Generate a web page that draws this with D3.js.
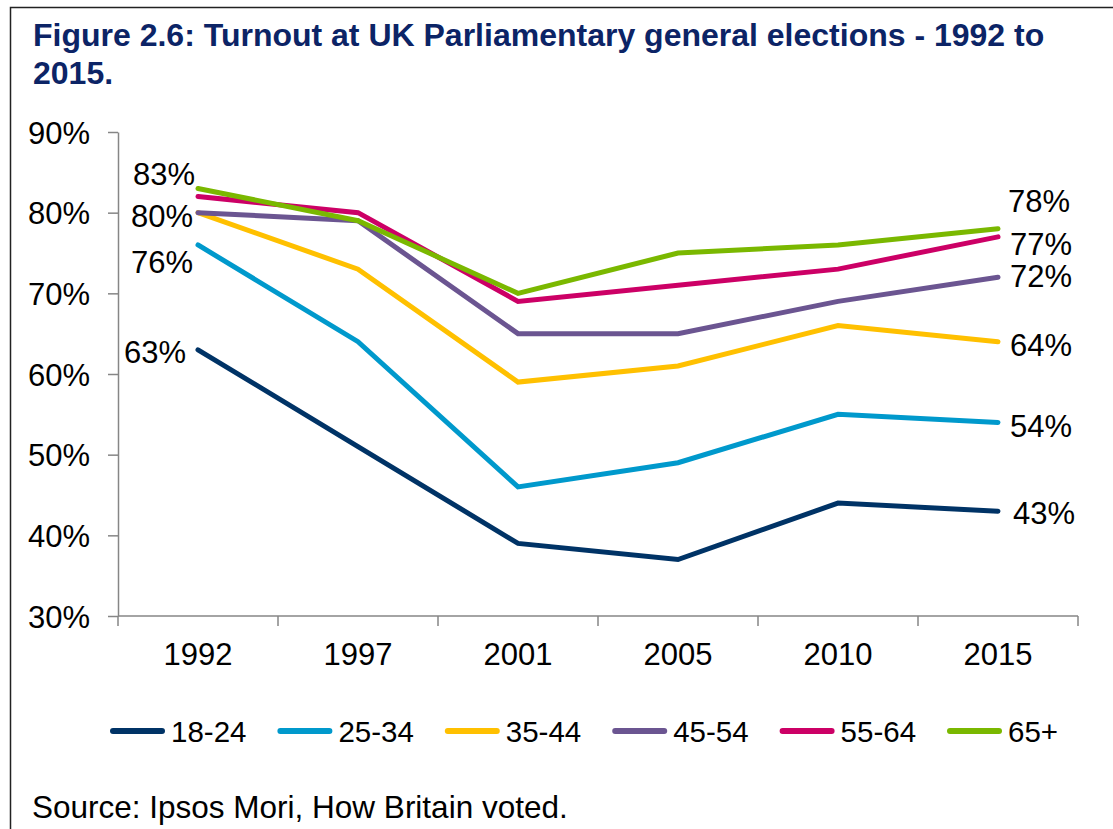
<!DOCTYPE html>
<html>
<head>
<meta charset="utf-8">
<script src="https://cdn.jsdelivr.net/npm/d3@7"></script>
<style>
  html, body { margin: 0; padding: 0; background: #fff; }
  svg { display: block; font-family: "Liberation Sans", Arial, sans-serif; }
</style>
</head>
<body>
<svg id="chart" width="1113" height="829"></svg>
<script>
// Election years (x categories)
const years = ["1992", "1997", "2001", "2005", "2010", "2015"];

// Age groups, drawn bottom-to-top so the older groups sit on top
const ageGroups = ["18-24", "25-34", "35-44", "45-54", "55-64", "65+"];

// Turnout (%) per age group, one value per election year
const turnout1824 = [63, 51, 39, 37, 44, 43];
const turnout2534 = [76, 64, 46, 49, 55, 54];
const turnout3544 = [80, 73, 59, 61, 66, 64];
const turnout4554 = [80, 79, 65, 65, 69, 72];
const turnout5564 = [82, 80, 69, 71, 73, 77];
const turnout65up = [83, 79, 70, 75, 76, 78];

// Y axis tick values (%)
const yTicks = [30, 40, 50, 60, 70, 80, 90];

const seriesValues = [turnout1824, turnout2534, turnout3544, turnout4554, turnout5564, turnout65up];
const colors = ["#003366", "#0099cc", "#ffc000", "#6b5591", "#cc0066", "#7ab800"];

// Value labels: which end of the line, plus a small nudge so labels don't collide
const labelPlacement = [
  { start: { dx: -12, dy: 2 },  end: { dx: 15, dy: 2 } },    // 18-24
  { start: { dx: -5, dy: 17 },  end: { dx: 12, dy: 3 } },    // 25-34
  { start: null,                end: { dx: 12, dy: 3 } },    // 35-44
  { start: { dx: -5, dy: 3 },   end: { dx: 12, dy: -1 } },   // 45-54
  { start: null,                end: { dx: 12, dy: 7 } },    // 55-64
  { start: { dx: -3, dy: -15 }, end: { dx: 10, dy: -28 } }   // 65+
];

const svg = d3.select("#chart");
svg.append("rect").attr("width", 1113).attr("height", 829).attr("fill", "#fff");

// Frame: top and left rules
svg.append("path")
  .attr("d", "M10.5,829 V7.5 H1113")
  .attr("fill", "none").attr("stroke", "#222").attr("stroke-width", 1.5);

// Title
const title = svg.append("text")
  .attr("x", 33).attr("y", 46)
  .attr("fill", "#0c2466")
  .attr("font-weight", "bold")
  .attr("font-size", 32);
title.append("tspan").attr("x", 33).attr("dy", 0)
  .text("Figure 2.6: Turnout at UK Parliamentary general elections - 1992 to");
title.append("tspan").attr("x", 33).attr("dy", 38).text("2015.");

// Scales
const x = d3.scaleBand().domain(years).range([118, 1078]);
const y = d3.scaleLinear().domain([30, 90]).range([616, 132]);
const axisColor = "#868686";

// Y axis
const yAxis = svg.append("g")
  .attr("transform", "translate(118,0)")
  .call(d3.axisLeft(y).tickValues(yTicks).tickFormat(d => d + "%")
    .tickSize(10).tickSizeOuter(0).tickPadding(18));
yAxis.select(".domain").attr("stroke", axisColor).attr("stroke-width", 1.5);
yAxis.selectAll(".tick line").attr("stroke", axisColor).attr("stroke-width", 1.5);
yAxis.selectAll(".tick text")
  .attr("fill", "#000").attr("font-size", 31)
  .attr("font-family", "Liberation Sans, Arial, sans-serif")
  .attr("dy", "0.36em");

// X axis: labels centred in each band, tick marks on band boundaries
const xAxis = svg.append("g")
  .attr("transform", "translate(0,616)")
  .call(d3.axisBottom(x).tickSize(0).tickPadding(27).tickSizeOuter(0));
xAxis.select(".domain").remove();
xAxis.selectAll(".tick line").remove();
xAxis.selectAll(".tick text")
  .attr("fill", "#000").attr("font-size", 31)
  .attr("font-family", "Liberation Sans, Arial, sans-serif");

xAxis.append("line")
  .attr("x1", x.range()[0]).attr("x2", x.range()[1])
  .attr("stroke", axisColor).attr("stroke-width", 1.5);
const bounds = years.map(d => x(d)).concat([x.range()[1]]);
xAxis.selectAll("line.bound").data(bounds).join("line")
  .attr("class", "bound")
  .attr("x1", d => d).attr("x2", d => d)
  .attr("y1", 0).attr("y2", 10)
  .attr("stroke", axisColor).attr("stroke-width", 1.5);

const cx = d => x(d) + x.bandwidth() / 2;

// Lines
const line = d3.line()
  .x((d, i) => cx(years[i]))
  .y(d => y(d));

svg.append("g").selectAll("path")
  .data(seriesValues)
  .join("path")
  .attr("d", line)
  .attr("fill", "none")
  .attr("stroke", (d, i) => colors[i])
  .attr("stroke-width", 5)
  .attr("stroke-linejoin", "miter")
  .attr("stroke-linecap", "round");

// Value labels at the first and last election
const labels = svg.append("g").attr("font-size", 31).attr("fill", "#000");
seriesValues.forEach((vals, i) => {
  const p = labelPlacement[i];
  if (p.start) {
    labels.append("text")
      .attr("x", cx(years[0]) + p.start.dx)
      .attr("y", y(vals[0]) + p.start.dy)
      .attr("dy", "0.36em")
      .attr("text-anchor", "end")
      .text(vals[0] + "%");
  }
  if (p.end) {
    const last = vals.length - 1;
    labels.append("text")
      .attr("x", cx(years[last]) + p.end.dx)
      .attr("y", y(vals[last]) + p.end.dy)
      .attr("dy", "0.36em")
      .attr("text-anchor", "start")
      .text(vals[last] + "%");
  }
});

// Legend
const legend = svg.append("g").attr("transform", "translate(110,731)");
const item = legend.selectAll("g").data(ageGroups).join("g")
  .attr("transform", (d, i) => `translate(${i * 167.4},0)`);
item.append("line")
  .attr("x1", 3).attr("x2", 52)
  .attr("stroke", (d, i) => colors[i])
  .attr("stroke-width", 6)
  .attr("stroke-linecap", "round");
item.append("text")
  .attr("x", 61).attr("dy", "0.36em")
  .attr("font-size", 29.5).attr("fill", "#000")
  .text(d => d);

// Source note
svg.append("text")
  .attr("x", 32).attr("y", 818)
  .attr("font-size", 31.5).attr("fill", "#000")
  .text("Source: Ipsos Mori, How Britain voted.");
</script>
</body>
</html>
